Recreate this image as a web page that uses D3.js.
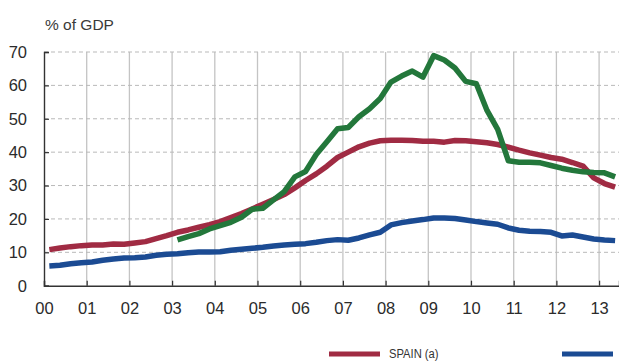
<!DOCTYPE html>
<html>
<head>
<meta charset="utf-8">
<script src="https://cdn.jsdelivr.net/npm/d3@7"></script>
<style>
  html, body { margin: 0; padding: 0; background: #fff; overflow: hidden; }
  svg { display: block; font-family: "Liberation Sans", Arial, Helvetica, sans-serif; }
</style>
</head>
<body>
<div id="chart"></div>
<script>
// quarterly observations, 2000 Q1 to 2013 Q2
const firstYear = 2000;
const quarterCount = 54;

const spain = [
    10.8, 11.3, 11.7, 12.0, 12.2, 12.2, 12.5, 12.4, 12.8, 13.2, 14.1, 15.0,
    16.0, 16.7, 17.5, 18.3, 19.2, 20.4, 21.6, 23.0, 24.4, 25.8, 27.3, 29.3,
    31.5, 33.5, 35.8, 38.4, 40.0, 41.6, 42.7, 43.4, 43.6, 43.6, 43.5, 43.3,
    43.3, 43.0, 43.5, 43.4, 43.1, 42.8, 42.3, 41.5, 40.6, 39.8, 39.1, 38.4,
    37.9, 36.9, 35.8, 32.3, 30.6, 29.5
];
const blueSeries = [
    5.9, 6.1, 6.6, 6.9, 7.1, 7.6, 8.0, 8.3, 8.4, 8.6, 9.1, 9.4,
    9.6, 9.9, 10.1, 10.1, 10.2, 10.6, 10.9, 11.2, 11.5, 11.9, 12.2, 12.4,
    12.6, 13.0, 13.5, 13.8, 13.6, 14.3, 15.2, 16.0, 18.2, 18.9, 19.4, 19.8,
    20.3, 20.3, 20.1, 19.7, 19.2, 18.8, 18.4, 17.3, 16.6, 16.3, 16.2, 16.0,
    14.9, 15.2, 14.6, 14.0, 13.7, 13.5
];
const greenSeries = [
    null, null, null, null, null, null, null, null, null, null, null, null,
    13.7, 14.7, 15.6, 17.0, 18.0, 19.0, 20.5, 22.9, 23.2, 25.7, 28.2, 32.6,
    34.2, 39.3, 43.1, 47.0, 47.4, 50.6, 53.0, 56.1, 61.0, 62.8, 64.3, 62.5,
    68.9, 67.6, 65.2, 61.2, 60.5, 52.5, 46.8, 37.4, 37.0, 37.0, 36.8, 36.0,
    35.2, 34.6, 34.1, 33.9, 33.8, 32.6
];

const yTicks = [0, 10, 20, 30, 40, 50, 60, 70];
const yearTicks = d3.range(2000, 2014);
const legendItems = [
    { label: "SPAIN (a)", color: "#a02b43" },
    { label: "", color: "#1b4b93" }
];

const width = 619, height = 361;
const margin = { top: 52, right: 0, bottom: 75, left: 44 };
const yearPx = 42.7;

const svg = d3.select("#chart").append("svg")
    .attr("width", width)
    .attr("height", height);

const x = d3.scaleLinear()
    .domain([firstYear, firstYear + (width - margin.left) / yearPx])
    .range([margin.left, width]);
const y = d3.scaleLinear()
    .domain([0, 70])
    .range([height - margin.bottom - 0.3, margin.top]);

// mid-quarter positions
const times = d3.range(quarterCount).map(i => firstYear + (i + 0.5) / 4);

// gridlines
svg.append("g")
    .selectAll("line")
    .data(yearTicks.slice(1))
    .join("line")
    .attr("x1", d => x(d)).attr("x2", d => x(d))
    .attr("y1", y(70)).attr("y2", y(0))
    .attr("stroke", "#c4c4c4")
    .attr("stroke-width", 1.3);
svg.append("g")
    .selectAll("line")
    .data(yTicks.slice(1))
    .join("line")
    .attr("x1", x(firstYear)).attr("x2", width)
    .attr("y1", d => y(d)).attr("y2", d => y(d))
    .attr("stroke", "#b9b9b9")
    .attr("stroke-width", 1)
    .attr("stroke-dasharray", "4,3");

// axes
const yAxis = svg.append("g")
    .attr("transform", `translate(${x(firstYear)},0)`)
    .call(d3.axisRight(y).tickValues(yTicks).tickSize(5).tickFormat(""));
yAxis.select(".domain").attr("stroke", "#333").attr("stroke-width", 1.4);
yAxis.selectAll(".tick line").attr("stroke", "#333").attr("stroke-width", 1.2);

const xAxis = svg.append("g")
    .attr("transform", `translate(0,${y(0)})`)
    .call(d3.axisTop(x).tickValues(yearTicks).tickSize(5).tickFormat(""));
xAxis.select(".domain").attr("stroke", "#333").attr("stroke-width", 1.4);
xAxis.selectAll(".tick line").attr("stroke", "#333").attr("stroke-width", 1.2);

// tick labels
svg.append("g")
    .selectAll("text")
    .data(yTicks)
    .join("text")
    .attr("x", 27)
    .attr("y", d => y(d))
    .attr("dy", "0.36em")
    .attr("text-anchor", "end")
    .attr("font-size", 16.5)
    .attr("fill", "#2b2b2b")
    .text(d => d);
svg.append("g")
    .selectAll("text")
    .data(yearTicks)
    .join("text")
    .attr("x", d => x(d) + 0.5)
    .attr("y", 314)
    .attr("text-anchor", "middle")
    .attr("font-size", 16.5)
    .attr("fill", "#2b2b2b")
    .text(d => String(d % 100).padStart(2, "0"));

svg.append("text")
    .attr("x", 45)
    .attr("y", 30)
    .attr("font-size", 15.5)
    .attr("fill", "#3a3a3a")
    .text("% of GDP");

// series
const line = d3.line()
    .defined(d => d[1] != null)
    .x(d => x(d[0]))
    .y(d => y(d[1]));

const series = [
    { values: spain, color: legendItems[0].color },
    { values: blueSeries, color: legendItems[1].color },
    { values: greenSeries, color: "#23773b" }
];

svg.append("g")
    .selectAll("path")
    .data(series)
    .join("path")
    .attr("d", s => line(times.map((t, i) => [t, s.values[i]])))
    .attr("fill", "none")
    .attr("stroke", s => s.color)
    .attr("stroke-width", 5.5)
    .attr("stroke-linejoin", "round");

// legend, sitting at the bottom edge of the frame
const legendX = [329, 562];
const legend = svg.append("g")
    .selectAll("g")
    .data(legendItems)
    .join("g")
    .attr("transform", (d, i) => `translate(${legendX[i]},354)`);
legend.append("line")
    .attr("x1", 0).attr("x2", 51)
    .attr("stroke", d => d.color)
    .attr("stroke-width", 5);
// condensed face: squeeze the regular one horizontally
legend.append("text")
    .attr("transform", "translate(60,3.5) scale(0.83,1)")
    .attr("font-size", 13.5)
    .attr("fill", "#333")
    .text(d => d.label);
</script>
</body>
</html>
